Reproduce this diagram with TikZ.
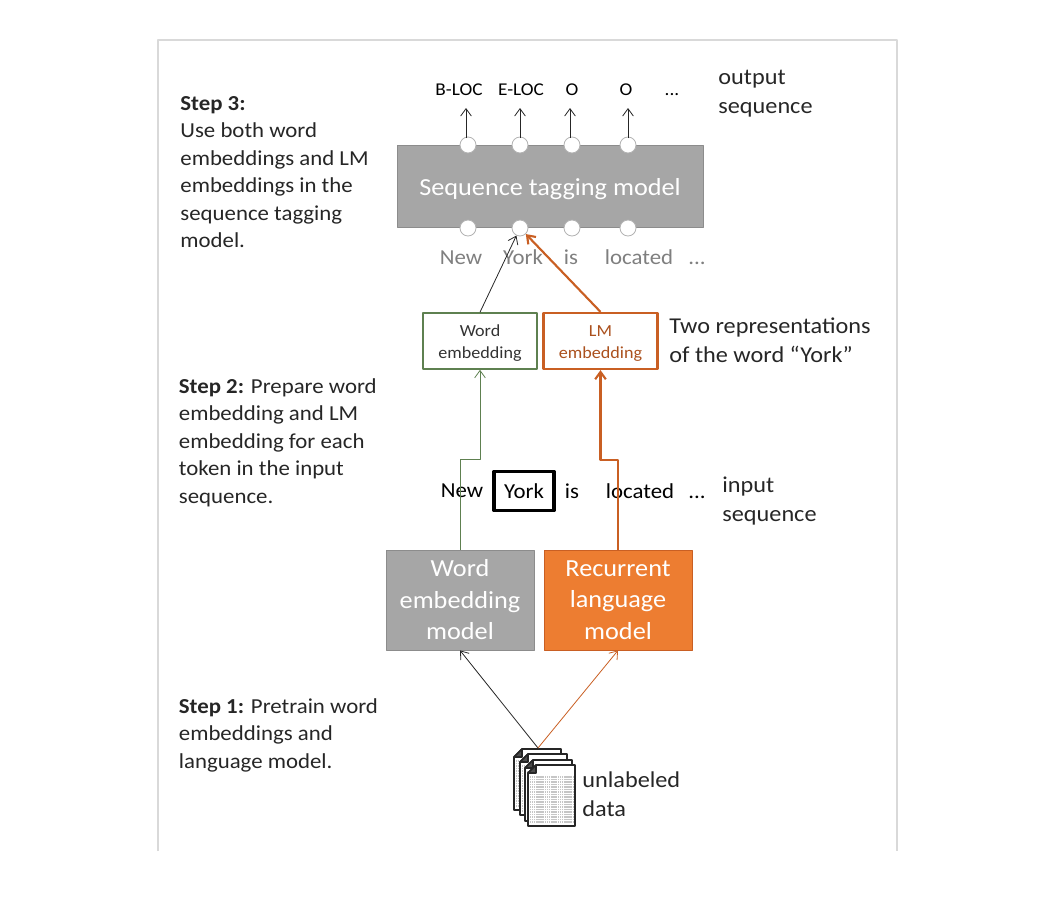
\documentclass[tikz,border=0pt]{standalone}
\usepackage{fontspec}
\setmainfont{Carlito}[FakeStretch=1.07]
\usetikzlibrary{arrows.meta}
\definecolor{boxgray}{HTML}{A6A6A6}
\definecolor{modelorange}{HTML}{ED7D31}
\definecolor{lineorange}{HTML}{C95F23}
\definecolor{linegreen}{HTML}{5E8050}
\definecolor{wordgray}{HTML}{7F7F7F}
\tikzset{
	stepnote/.style={anchor=north west,align=left,inner sep=0pt,font=\fontsize{16}{20.6}\selectfont,text=black!85},
	side/.style={anchor=west,align=left,inner sep=0pt,font=\fontsize{17}{21.6}\selectfont,text=black!85},
	model/.style={draw=gray!90,fill=boxgray,text=white,align=center,inner sep=0pt,minimum width=111pt,minimum height=75pt,font=\fontsize{18.4}{23.6}\selectfont},
	embed/.style={fill=white,align=center,inner sep=0pt,minimum width=85.5pt,minimum height=42pt,font=\fontsize{12.7}{16}\selectfont},
	port/.style={circle,draw=gray!60,fill=white,inner sep=0pt,minimum size=12pt},
	tag/.style={inner sep=0pt,font=\fontsize{13.5}{16}\selectfont},
	token/.style={inner sep=0pt,font=\fontsize{16}{20}\selectfont},
	page/.style={draw=black!85,line width=1.2pt,fill=white},
}
\begin{document}
\begin{tikzpicture}[x=0.75pt,y=-0.75pt,line join=round,line width=0.6pt,>={Straight Barb[length=5.5pt,width=8pt]}]
	\useasboundingbox (0,0) rectangle (1064,904);
	\draw[black!15,line width=0.8pt] (158,851)--(158,40)--(897,40)--(897,851);
	% step texts
	\node[stepnote] (stepc) at (180,96) {\textbf{Step 3:}\\Use both word\\embeddings and LM\\embeddings in the\\sequence tagging\\model.};
	\node[stepnote] (stepb) at (178.5,378) {\textbf{Step 2:} Prepare word\\embedding and LM\\embedding for each\\token in the input\\sequence.};
	\node[stepnote] (stepa) at (178.5,698) {\textbf{Step 1:} Pretrain word\\embeddings and\\language model.};
	\node[side] (outl) at (718,94) {output\\sequence};
	\node[side] (twol) at (669,340) {Two representations\\of the word “York”};
	\node[side] (inl) at (722,501) {input\\sequence};
	\node[side] (datal) at (582,794) {unlabeled\\data};
	% tagging model
	\node[model,minimum width=229.5pt,minimum height=61.5pt,text height=17pt] (seq) at (550,186) {Sequence tagging model};
	\foreach \n/\x in {1/468,2/520,3/572,4/628}{
		\node[port] (tp\n) at (\x,145) {};
		\node[port] (bp\n) at (\x,228) {};
	}
	\node[tag] (b) at (459,90) {B-LOC};
	\node[tag] (e) at (521,90) {E-LOC};
	\node[tag] (o) at (572,90) {O};
	\node[tag] (oo) at (626,90) {O};
	\node[tag] (dots) at (672,95) {...};
	\foreach \n/\x in {1/466,2/520,3/570,4/628}{
		\coordinate (ta\n) at (\x,108);
		\draw[->,black!85] (\x,138)--(ta\n);
	}
	\node[token,text=wordgray] (new) at (461,258) {New};
	\node[token,text=wordgray] (york) at (523,257) {York};
	\node[token,text=wordgray] (is) at (571,257) {is};
	\node[token,text=wordgray] (loc) at (639,257) {located};
	\node[token,text=wordgray] (more) at (697,263) {...};
	% embeddings
	\node[embed,draw=linegreen,line width=1.2pt,text=black!80] (we) at (480,341) {\rule{0pt}{12pt}Word\\embedding};
	\node[embed,draw=lineorange,line width=1.7pt,text=lineorange!85!black] (lm) at (600.5,341) {\rule{0pt}{12pt}LM\\embedding};
	\draw[->,black!85] (we.north)--(bp2);
	\draw[->,lineorange,line width=1.6pt] (lm.north)--(bp2);
	% input
	\node[token] (newi) at (462,491) {New};
	\node[token,draw=black,line width=2.5pt,minimum width=45pt,minimum height=29.5pt] (yorki) at (524,491) {York};
	\node[token] (isi) at (572,491) {is};
	\node[token] (loci) at (640,491) {located};
	\node[token] (morei) at (697,497) {...};
	% pretrained models
	\node[model] (wm) at (460,600) {Word\\embedding\\model};
	\node[model,fill=modelorange,draw=lineorange] (rl) at (618,600) {Recurrent\\language\\model};
	\draw[->,linegreen] (wm.north)--++(0,-90)-|(we.south);
	\draw[->,lineorange,line width=1.6pt] (rl.north)--++(0,-90)-|(lm.south);
	% documents
	\foreach \x/\y in {514/749,520/754,525/760,528/765}{
		\draw[page] (\x+8,\y)--(\x+47,\y)--(\x+47,\y+61)--(\x,\y+61)--(\x,\y+8)--cycle;
		\draw[page,fill=black!70] (\x,\y+8)--(\x+8,\y+8)--(\x+8,\y)--cycle;
		\foreach \k in {0,2.5,...,45}{
			\draw[gray!45,line width=1pt,dash pattern=on 1pt off 0.4pt] (\x+2,\y+12+\k)--(\x+45,\y+12+\k);
		}
	}
	\coordinate (src) at (538,748);
	\draw[->,black!85] (src)--(wm.south);
	\draw[->,lineorange] (src)--(rl.south);
\end{tikzpicture}
\end{document}
